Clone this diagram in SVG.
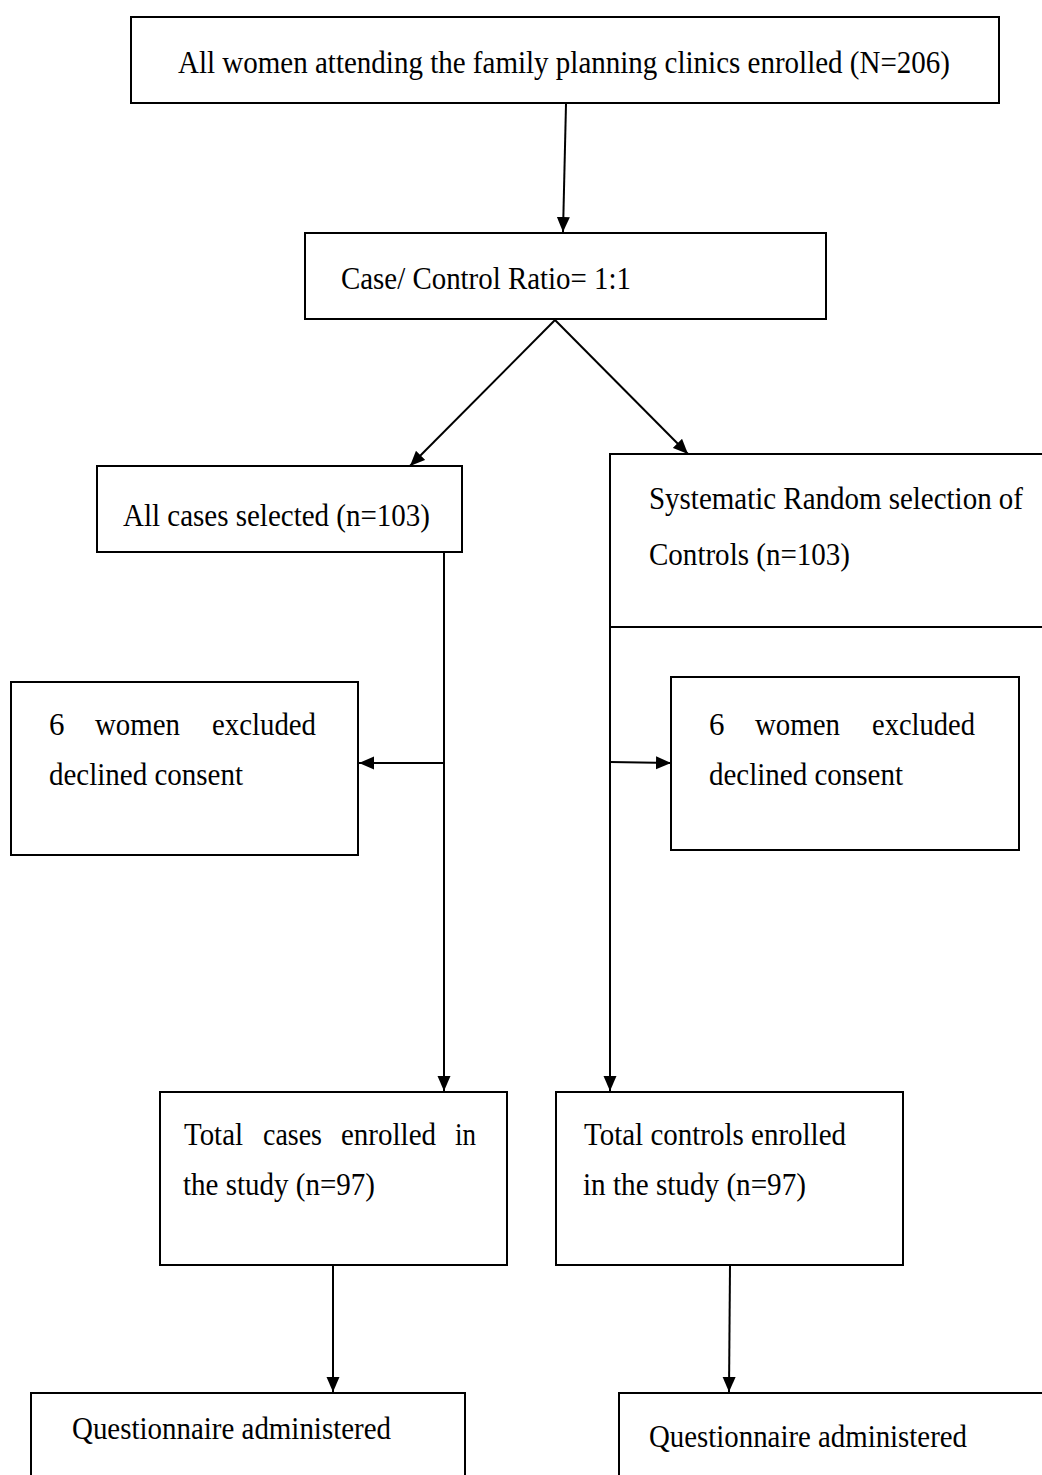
<svg xmlns="http://www.w3.org/2000/svg" width="1042" height="1475" viewBox="0 0 1042 1475">
<style>
.box{fill:#fff;stroke:#000;stroke-width:2}
.t{font-family:"Liberation Serif","Times New Roman",Times,serif;font-size:31px;fill:#000}
.c{stroke:#000;stroke-width:2;fill:none;marker-end:url(#ah)}
</style>
<defs>
<marker id="ah" markerUnits="userSpaceOnUse" markerWidth="15" markerHeight="14" viewBox="0 0 15 14" refX="15" refY="7" orient="auto">
<path d="M0,0.5 L15,7 L0,13.5 z" fill="#000"/>
</marker>
</defs>
<rect width="1042" height="1475" fill="#fff"/>
<g id="n1"><rect class="box" x="131" y="17" width="868" height="86"/>
<text class="t" x="178" y="73" textLength="772" lengthAdjust="spacingAndGlyphs">All women attending the family planning clinics enrolled (N=206)</text></g>
<g id="n2"><rect class="box" x="305" y="233" width="521" height="86"/>
<text class="t" x="341" y="289" textLength="290" lengthAdjust="spacingAndGlyphs">Case/ Control Ratio= 1:1</text></g>
<g id="n3"><rect class="box" x="97" y="466" width="365" height="86"/>
<text class="t" x="123" y="526" textLength="307" lengthAdjust="spacingAndGlyphs">All cases selected (n=103)</text></g>
<g id="n4"><rect class="box" x="610" y="454" width="450" height="173"/>
<text class="t" x="649" y="509" textLength="374" lengthAdjust="spacingAndGlyphs">Systematic Random selection of</text>
<text class="t" x="649" y="565" textLength="201" lengthAdjust="spacingAndGlyphs">Controls (n=103)</text></g>
<g id="n5"><rect class="box" x="11" y="682" width="347" height="173"/>
<text class="t" x="49" y="735">6</text>
<text class="t" x="95" y="735" textLength="85" lengthAdjust="spacingAndGlyphs">women</text>
<text class="t" x="212" y="735" textLength="104" lengthAdjust="spacingAndGlyphs">excluded</text>
<text class="t" x="49" y="785" textLength="194" lengthAdjust="spacingAndGlyphs">declined consent</text></g>
<g id="n6"><rect class="box" x="671" y="677" width="348" height="173"/>
<text class="t" x="709" y="735">6</text>
<text class="t" x="755" y="735" textLength="85" lengthAdjust="spacingAndGlyphs">women</text>
<text class="t" x="872" y="735" textLength="103" lengthAdjust="spacingAndGlyphs">excluded</text>
<text class="t" x="709" y="785" textLength="194" lengthAdjust="spacingAndGlyphs">declined consent</text></g>
<g id="n7"><rect class="box" x="160" y="1092" width="347" height="173"/>
<text class="t" x="184" y="1145" textLength="59" lengthAdjust="spacingAndGlyphs">Total</text>
<text class="t" x="263" y="1145" textLength="59" lengthAdjust="spacingAndGlyphs">cases</text>
<text class="t" x="341" y="1145" textLength="95" lengthAdjust="spacingAndGlyphs">enrolled</text>
<text class="t" x="455" y="1145" textLength="21" lengthAdjust="spacingAndGlyphs">in</text>
<text class="t" x="183" y="1195" textLength="192" lengthAdjust="spacingAndGlyphs">the study (n=97)</text></g>
<g id="n8"><rect class="box" x="556" y="1092" width="347" height="173"/>
<text class="t" x="584" y="1145" textLength="262" lengthAdjust="spacingAndGlyphs">Total controls enrolled</text>
<text class="t" x="583" y="1195" textLength="223" lengthAdjust="spacingAndGlyphs">in the study (n=97)</text></g>
<g id="n9"><rect class="box" x="31" y="1393" width="434" height="100"/>
<text class="t" x="72" y="1439" textLength="319" lengthAdjust="spacingAndGlyphs">Questionnaire administered</text></g>
<g id="n10"><rect class="box" x="619" y="1393" width="440" height="100"/>
<text class="t" x="649" y="1447" textLength="318" lengthAdjust="spacingAndGlyphs">Questionnaire administered</text></g>
<g id="connectors">
<line class="c" x1="566" y1="104" x2="563" y2="232"/>
<line class="c" x1="555" y1="320" x2="410" y2="466"/>
<line class="c" x1="555" y1="320" x2="688" y2="454"/>
<line class="c" x1="444" y1="553" x2="444" y2="1091"/>
<line class="c" x1="444" y1="763" x2="359" y2="763"/>
<line class="c" x1="610" y1="627" x2="610" y2="1091"/>
<line class="c" x1="610" y1="762" x2="671" y2="763"/>
<line class="c" x1="333" y1="1266" x2="333" y2="1392"/>
<line class="c" x1="730" y1="1266" x2="729" y2="1392"/>
</g>
</svg>
